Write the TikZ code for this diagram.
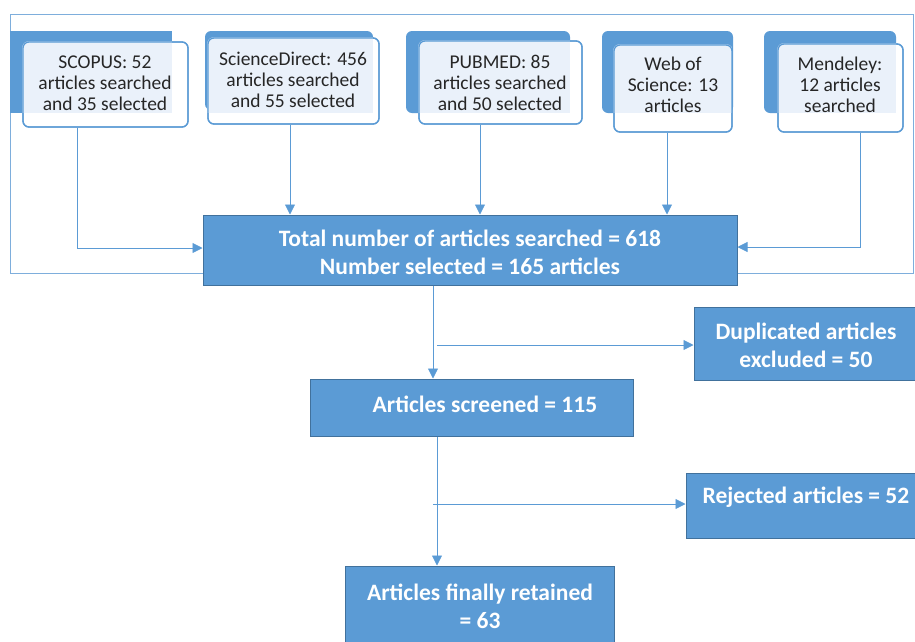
\documentclass[tikz,border=0pt]{standalone}
\usepackage{fontspec}
\setmainfont{Carlito}
\usetikzlibrary{arrows.meta}
\definecolor{mblue}{HTML}{5B9BD5}
\definecolor{dblue}{HTML}{41719C}
\definecolor{lblue}{HTML}{EAF1FA}
\definecolor{fblue}{HTML}{7EAEDC}
\definecolor{tgray}{HTML}{262626}
\begin{document}
\begin{tikzpicture}[x=1pt,y=-1pt,
  darkbox/.style={fill=mblue, rounded corners=6pt},
  frontbox/.style={draw=mblue, line width=1.3pt, rounded corners=6pt, inner sep=0pt},
  srctext/.style={font=\fontsize{19.5}{21}\selectfont, align=center, text=tgray, inner sep=0pt},
  solidbox/.style={fill=mblue, draw=dblue, line width=1pt, inner sep=0pt},
  wtext/.style={font=\bfseries\fontsize{23.5}{28}\selectfont, text=white, align=center, inner sep=0pt},
  conn/.style={draw=mblue, line width=0.8pt},
  arr/.style={conn, -{Triangle[length=10pt,width=10pt]}}
]
\useasboundingbox (0,0) rectangle (915,641);
% outer frame
\draw[draw=fblue, line width=1pt] (10,14) rectangle (913,273);

% ---- SCOPUS
\fill[mblue] (10,31) rectangle (172,113);
\node[frontbox, fill=white, minimum width=165pt, minimum height=85pt] (scopus) at (105.5,84.5) {};
\begin{scope}
  \clip[rounded corners=6pt] (scopus.south west) rectangle (scopus.north east);
  \fill[lblue] (scopus.north west) rectangle (172,113);
\end{scope}
\node[frontbox, minimum width=165pt, minimum height=85pt] at (scopus) {};
\node[srctext] at (105,83) {SCOPUS: 52\\articles searched\\and 35 selected};

% ---- ScienceDirect
\fill[mblue, rounded corners=6pt] (205,31) rectangle (373,110);
\node[frontbox, fill=white, minimum width=171pt, minimum height=86pt] (sd) at (293.5,81) {};
\begin{scope}
  \clip[rounded corners=6pt] (sd.south west) rectangle (sd.north east);
  \fill[lblue] (sd.north west) rectangle (373,113);
\end{scope}
\node[frontbox, minimum width=171pt, minimum height=86pt] at (sd) {};
\node[srctext] at (293,79.7) {ScienceDirect: 456\\articles searched\\and 55 selected};

% ---- PUBMED
\fill[mblue, rounded corners=6pt] (406,31) rectangle (570,113);
\node[frontbox, fill=white, minimum width=163pt, minimum height=83pt] (pub) at (500.5,82.5) {};
\begin{scope}
  \clip[rounded corners=6pt] (pub.south west) rectangle (pub.north east);
  \fill[lblue] (pub.north west) rectangle (570,113);
\end{scope}
\node[frontbox, minimum width=163pt, minimum height=83pt] at (pub) {};
\node[srctext] at (500,83) {PUBMED: 85\\articles searched\\and 50 selected};

% ---- Web of Science
\fill[mblue, rounded corners=6pt] (602,31) rectangle (733,113);
\node[frontbox, fill=white, minimum width=118pt, minimum height=87pt] (wos) at (673,88.5) {};
\begin{scope}
  \clip[rounded corners=6pt] (wos.south west) rectangle (wos.north east);
  \fill[lblue] (wos.north west) rectangle (733,113);
\end{scope}
\node[frontbox, minimum width=118pt, minimum height=87pt] at (wos) {};
\node[srctext] at (673,85) {Web of\\Science: 13\\articles};

% ---- Mendeley
\fill[mblue, rounded corners=6pt] (764,31) rectangle (896,113);
\node[frontbox, fill=white, minimum width=125pt, minimum height=88pt] (men) at (840.5,88) {};
\begin{scope}
  \clip[rounded corners=6pt] (men.south west) rectangle (men.north east);
  \fill[lblue] (men.north west) rectangle (896,113);
\end{scope}
\node[frontbox, minimum width=125pt, minimum height=88pt] at (men) {};
\node[srctext] at (840,85) {Mendeley:\\12 articles\\searched};

% ---- solid boxes
\node[solidbox, minimum width=534pt, minimum height=70pt] (total) at (470,250) {};
\node[wtext] at (470,252) {Total number of articles searched = 618\\Number selected = 165 articles};

\node[solidbox, minimum width=222pt, minimum height=73pt] (dup) at (805,343.5) {};
\node[wtext] at (806,345) {Duplicated articles\\excluded = 50};

\node[solidbox, minimum width=323pt, minimum height=57pt] (scr) at (471.5,407.5) {};
\node[wtext] at (485,404) {Articles screened = 115};

\node[solidbox, minimum width=230pt, minimum height=65pt] (rej) at (801,505.5) {};
\node[wtext] at (806,497) {Rejected articles = 52};

\node[solidbox, minimum width=269pt, minimum height=79pt] (fin) at (479.5,605.5) {};
\node[wtext] at (480,606) {Articles finally retained\\= 63};

% ---- connectors
\draw[arr] ([xshift=-28.5pt]scopus.south) |- ([yshift=2pt]total.west);
\draw[arr] ([xshift=-3.5pt]sd.south) -- ([xshift=-3.5pt]sd.south |- total.north);
\draw[arr] ([xshift=-20.5pt]pub.south) -- ([xshift=-20.5pt]pub.south |- total.north);
\draw[arr] ([xshift=-6pt]wos.south) -- ([xshift=-6pt]wos.south |- total.north);
\draw[arr] ([xshift=19.5pt]men.south) |- ([yshift=3pt]total.east);

\draw[arr] ([xshift=-37pt]total.south) -- ([xshift=-37pt]total.south |- scr.north);
\coordinate (j1) at (437,345);
\draw[arr] (j1) -- (dup.west |- j1);

\draw[arr] ([xshift=-34.5pt]scr.south) -- ([xshift=-34.5pt]scr.south |- fin.north);
\coordinate (j2) at (433,504);
\draw[arr] (j2) -- (rej.west |- j2);
\end{tikzpicture}
\end{document}
